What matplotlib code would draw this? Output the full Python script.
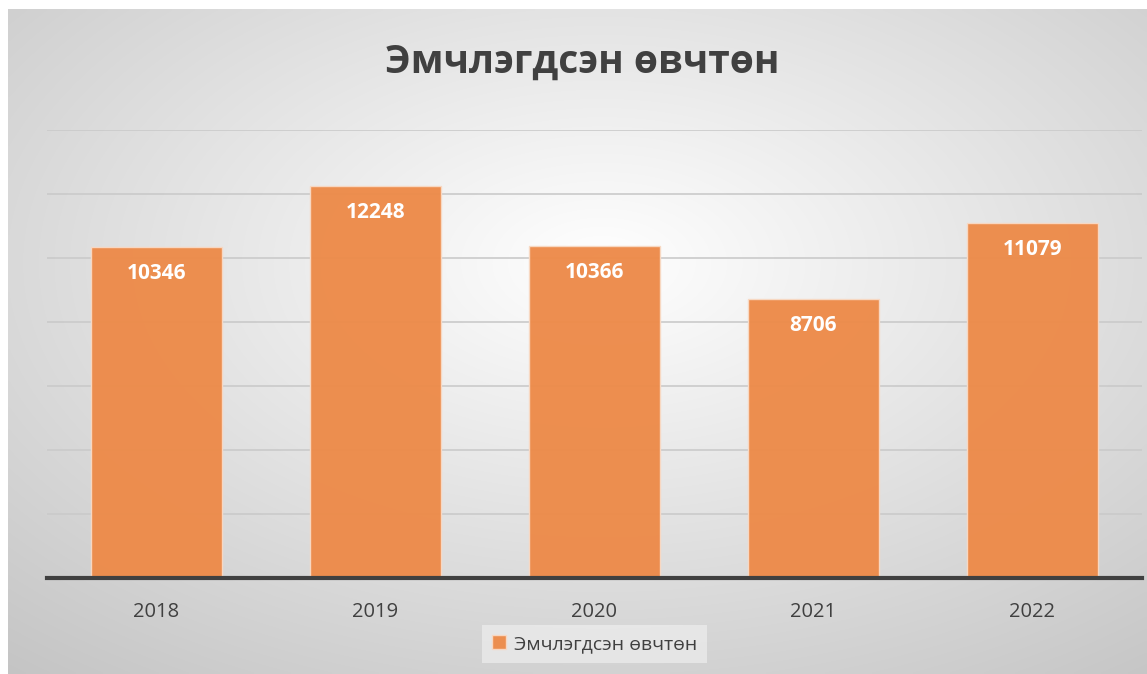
import numpy as np
import matplotlib
matplotlib.use("Agg")
import matplotlib.pyplot as plt

years = ["2018", "2019", "2020", "2021", "2022"]
values = [10346, 12248, 10366, 8706, 11079]
title = "Эмчлэгдсэн өвчтөн"
series_name = "Эмчлэгдсэн өвчтөн"

FAM = ["Open Sans", "DejaVu Sans"]
plt.rcParams["font.family"] = FAM

W, H = 1147, 674
fig = plt.figure(figsize=(W / 100, H / 100), dpi=100)
fig.patch.set_facecolor("white")

# background gradient panel
bg = fig.add_axes([8 / W, 0, 1 - 8 / W, 1 - 9 / H])
bg.set_axis_off()
yy, xx = np.mgrid[0:200, 0:340]
cx, cy = 340 * 0.52, 200 * 0.38
d = np.sqrt(((xx - cx) / 340) ** 2 + ((yy - cy) / 200) ** 2)
d = d / d.max()
v = 1.0 - 0.23 * d ** 1.0
img = np.dstack([v, v, v])
bg.imshow(img, aspect="auto", extent=[0, 1, 0, 1], interpolation="bilinear")
bg.set_xlim(0, 1)
bg.set_ylim(0, 1)

# main axes: x 47..1142, y 130..578 (0..14000)
ax = fig.add_axes([47 / W, (H - 578) / H, (1142 - 47) / W, (578 - 130) / H])
ax.patch.set_alpha(0)
x = np.arange(len(years))
bars = ax.bar(x, values, width=0.6, color="#ED8B4A", alpha=0.97,
              edgecolor="#F8D9C4", linewidth=1.0, zorder=3)
ax.set_xlim(-0.5, len(years) - 0.5)
ax.set_ylim(0, 14000)
ax.set_yticks(np.arange(0, 14001, 2000))
ax.yaxis.grid(True, color="#CACACA", linewidth=1.2, zorder=0)
ax.set_axisbelow(True)
for s in ["top", "right", "left"]:
    ax.spines[s].set_visible(False)
ax.spines["bottom"].set_color("#404040")
ax.spines["bottom"].set_linewidth(3)
ax.spines["bottom"].set_zorder(5)
ax.tick_params(axis="y", left=False, labelleft=False)
ax.tick_params(axis="x", length=0, pad=17, labelsize=14.5, labelcolor="#404040")
ax.set_xticks(x)
ax.set_xticklabels(years)

for xi, val in zip(x, values):
    ax.annotate(str(val), (xi, val), xytext=(0, -19), textcoords="offset points",
                ha="center", va="center", color="white", fontsize=15,
                fontweight="bold", zorder=6)

fig.text(0.508, 1 - 62 / H, title, ha="center", va="center", fontsize=28,
         fontweight="bold", color="#404040")

leg = ax.legend([bars[0]], [series_name], loc="center",
                bbox_to_anchor=(0.5, (578 - 644) / (578 - 130)),
                frameon=True, fontsize=14, handlelength=0.7, handleheight=0.7,
                handletextpad=0.4, borderpad=0.5, fancybox=False)
leg.get_frame().set_facecolor("#F2F2F2")
leg.get_frame().set_edgecolor("none")
leg.get_frame().set_alpha(0.6)
for t in leg.get_texts():
    t.set_color("#404040")

fig.savefig("out.png", dpi=100)
